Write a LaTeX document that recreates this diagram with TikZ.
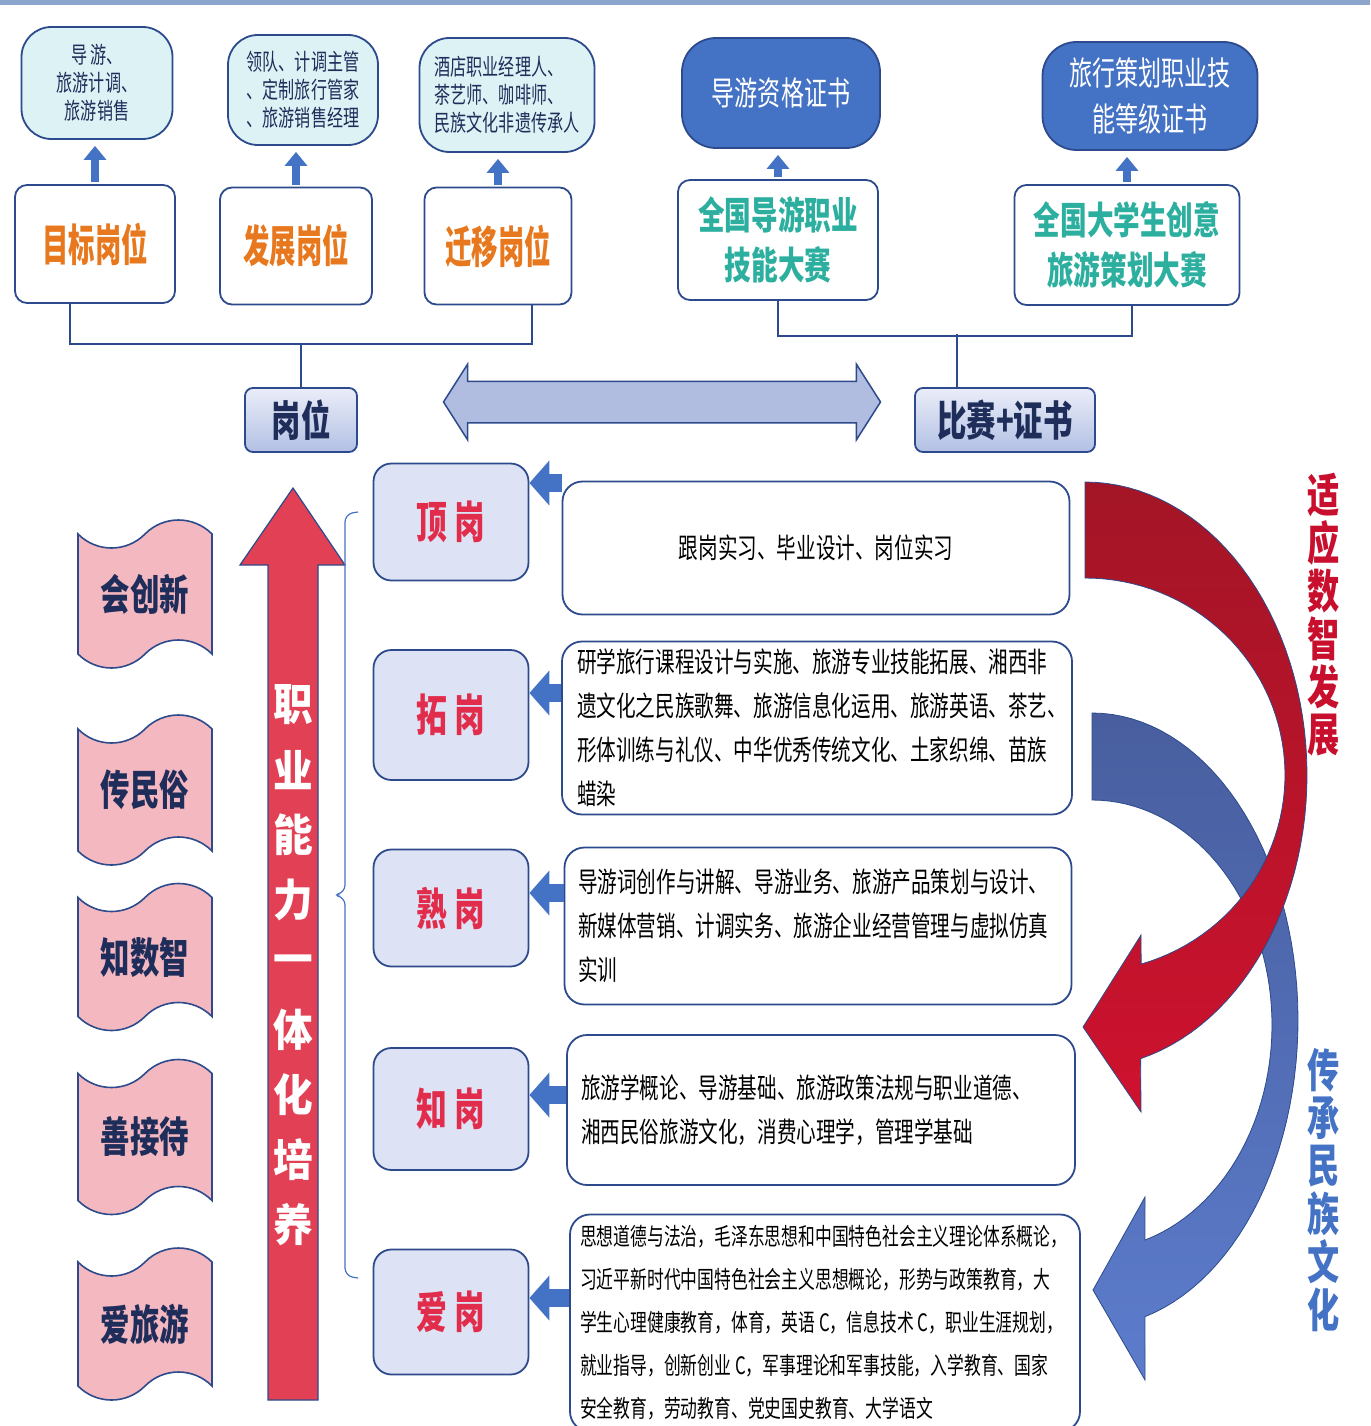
\documentclass[tikz,border=0pt]{standalone}
\usepackage{fontspec}
\setmainfont{Noto Sans CJK SC}
\newfontfamily\cnfont[FakeStretch=0.7]{Noto Sans CJK SC}
\newfontfamily\cnnarrow[FakeStretch=0.6]{Noto Sans CJK SC}
\newfontfamily\cnwide[FakeStretch=0.9]{Noto Sans CJK SC}
\usetikzlibrary{positioning}
\usetikzlibrary{arrows.meta,shapes}
\usetikzlibrary{shapes.arrows,shapes.symbols}
\usetikzlibrary{calc}

\definecolor{linecol}{RGB}{44,74,140}
\definecolor{navy}{RGB}{31,45,90}
\definecolor{cyanfill}{RGB}{221,242,245}
\definecolor{certfill}{RGB}{68,114,196}
\definecolor{orangec}{RGB}{232,120,30}
\definecolor{tealc}{RGB}{45,175,160}
\definecolor{lavfill}{RGB}{221,226,244}
\definecolor{lavdark}{RGB}{178,192,228}
\definecolor{arrfill}{RGB}{176,188,224}
\definecolor{pinkfill}{RGB}{244,184,192}
\definecolor{bigred}{RGB}{226,64,84}
\definecolor{arrblue}{RGB}{68,114,196}
\definecolor{redtop}{RGB}{163,21,38}
\definecolor{redbot}{RGB}{206,18,46}
\definecolor{bluetop}{RGB}{72,94,158}
\definecolor{bluebot}{RGB}{92,124,204}
\definecolor{redtxt}{RGB}{200,16,46}
\definecolor{stagered}{RGB}{225,45,75}
\definecolor{topbar}{RGB}{140,165,205}

\tikzstyle{jobbox}=[draw=linecol, line width=1.8pt, fill=cyanfill, rounded corners=30pt, inner sep=0pt, text=navy, font=\cnfont\fontsize{23}{28}\selectfont]
\tikzstyle{certbox}=[draw=linecol, line width=1.8pt, fill=certfill, rounded corners=34pt, inner sep=0pt, align=center, text=white, font=\cnfont\fontsize{33}{46}\selectfont]
\tikzstyle{posbox}=[draw=linecol, line width=1.8pt, fill=white, rounded corners=12pt, inner sep=0pt, align=center]
\tikzstyle{keybox}=[draw=linecol, line width=1.8pt, top color=lavfill!60!white, bottom color=lavdark, rounded corners=8pt, inner sep=0pt, text=navy, font=\cnfont\bfseries\fontsize{42}{42}\selectfont]
\tikzstyle{ribbon}=[tape, draw=linecol, line width=1.6pt, fill=pinkfill, tape bend top=in and out, tape bend bottom=in and out, tape bend height=28pt, minimum width=134pt, inner sep=0pt, text=navy, font=\cnfont\bfseries\fontsize{42}{42}\selectfont]
\tikzstyle{stagebox}=[draw=linecol, line width=1.8pt, fill=lavfill, rounded corners=18pt, minimum width=155pt, inner sep=0pt, text=stagered, font=\cnfont\bfseries\fontsize{44}{44}\selectfont]
\tikzstyle{contbox}=[draw=linecol, line width=1.8pt, fill=white, rounded corners=20pt, inner sep=0pt, align=left, text=black]
\tikzstyle{conn}=[draw=linecol, line width=1.2pt]
\tikzstyle{uparr}=[draw=arrblue, line width=8pt, -{Triangle[width=22pt,length=14pt]}, shorten >=6pt, shorten <=2pt]
\tikzstyle{leftarr}=[draw=arrblue, line width=18pt, -{Triangle[width=44pt,length=20pt]}]
\tikzstyle{armtxt}=[text=white, inner sep=0pt, font=\cnwide\bfseries\fontsize{44}{44}\selectfont]
\tikzstyle{vtxt}=[inner sep=0pt, font=\cnfont\bfseries\fontsize{46}{46}\selectfont]

\begin{document}
\begin{tikzpicture}[x=1pt, y=-1pt]
  \useasboundingbox (0,0) rectangle (1370,1426);
  \fill[topbar] (0,0) rectangle (1370,5);

  % top row: jobs and certificates
  \foreach \x/\y/\w/\h/\al/\name/\label in {97/83/151/112/center/c1/{导 游、\\旅游计调、\\旅游销售},
      303/90/150/110/left/c2/{领队、计调主管\\、定制旅行管家\\、旅游销售经理},
      507/95/175/114/left/c3/{酒店职业经理人、\\茶艺师、咖啡师、\\民族文化非遗传承人}}
    \node[jobbox, align=\al, minimum width=\w pt, minimum height=\h pt] (\name) at (\x,\y) {\label};

  \foreach \x/\y/\w/\h/\name/\label in {781/93/198/110/z1/{导游资格证书}, 1150/96/215/108/z2/{旅行策划职业技\\能等级证书}}
    \node[certbox, minimum width=\w pt, minimum height=\h pt] (\name) at (\x,\y) {\label};

  \foreach \x/\y/\w/\h/\name/\label in {95/244/160/118/p1/目标岗位, 296/246/152/117/p2/发展岗位, 498/246/147/117/p3/迁移岗位}
    \node[posbox, text=orangec, font=\cnnarrow\bfseries\fontsize{44}{44}\selectfont, minimum width=\w pt, minimum height=\h pt] (\name) at (\x,\y) {\label};

  \foreach \x/\y/\w/\h/\name/\label in {778/240/200/120/m1/{全国导游职业\\技能大赛}, 1127/245/225/120/m2/{全国大学生创意\\旅游策划大赛}}
    \node[posbox, text=tealc, font=\cnfont\bfseries\fontsize{38}{50}\selectfont, minimum width=\w pt, minimum height=\h pt] (\name) at (\x,\y) {\label};

  \foreach \a/\b in {p1/c1, p2/c2, p3/c3, m1/z1, m2/z2}
    \draw[uparr] (\a.north) -- (\a.north |- \b.south);

  % the two summary boxes
  \node[keybox, minimum width=112pt, minimum height=64pt] (gw) at (301,420) {岗位};
  \node[keybox, minimum width=180pt, minimum height=64pt] (mc) at (1005,420) {比赛+证书};

  \draw[conn] ([xshift=-25pt]p1.south) -- ++(0,40) -| ([xshift=34pt]p3.south);
  \draw[conn] (gw.north) -- (gw.north |- 0,343);
  \draw[conn] (m1.south) -- ++(0,35) -| ([xshift=5pt]m2.south);
  \draw[conn] ([xshift=-48pt]mc.north) -- ++(0,-53);

  \node[double arrow, draw=linecol, line width=1.5pt, fill=arrfill, minimum height=437pt, double arrow head extend=17pt, double arrow tip angle=115, inner ysep=20pt, inner xsep=0pt] (link) at (662,402) {};

  % left ribbons
  \foreach \y/\h/\name/\label in {594/148/r1/会创新, 790/150/r2/传民俗, 957/147/r3/知数智, 1137/155/r4/善接待, 1324/152/r5/爱旅游}
    \node[ribbon, minimum height=\h pt] (\name) at (145,\y) {\label};

  % big arrow
  \filldraw[fill=bigred, draw=linecol, line width=1.2pt] (268,1400) -- (268,565) -- (240,565) -- (293,488) -- (345,565) -- (318,565) -- (318,1400) -- cycle;
  \foreach \c [count=\i] in {职,业,能,力,一,体,化,培,养}
    \node[armtxt] (k\i) at (293,640+65*\i) {\c};

  \draw[draw=arrblue, line width=1.2pt, rounded corners=8pt] (358,512) -- (345,514) -- (345,893) -- (332,895) -- (345,897) -- (345,1276) -- (358,1278);

  % stages
  \foreach \y/\h/\name/\label in {522/117/s1/顶 岗, 715/130/s2/拓 岗, 908/117/s3/熟 岗, 1109/122/s4/知 岗, 1312/125/s5/爱 岗}
    \node[stagebox, minimum height=\h pt] (\name) at (451,\y) {\label};

  \node[contbox, align=center, minimum width=507pt, minimum height=133pt, font=\cnfont\fontsize{28}{44}\selectfont] (t1) at (816,548) {跟岗实习、毕业设计、岗位实习};
  \node[contbox, text width=480pt, minimum width=510pt, minimum height=173pt, font=\cnfont\fontsize{28}{44}\selectfont] (t2) at (817,728)
    {研学旅行课程设计与实施、旅游专业技能拓展、湘西非\\遗文化之民族歌舞、旅游信息化运用、旅游英语、茶艺、\\形体训练与礼仪、中华优秀传统文化、土家织绵、苗族\\蜡染};
  \node[contbox, text width=480pt, minimum width=507pt, minimum height=157pt, font=\cnfont\fontsize{28}{44}\selectfont] (t3) at (818,926)
    {导游词创作与讲解、导游业务、旅游产品策划与设计、\\新媒体营销、计调实务、旅游企业经营管理与虚拟仿真\\实训};
  \node[contbox, text width=480pt, minimum width=508pt, minimum height=150pt, font=\cnfont\fontsize{28}{44}\selectfont] (t4) at (821,1110)
    {旅游学概论、导游基础、旅游政策法规与职业道德、\\湘西民俗旅游文化，消费心理学，管理学基础};
  \node[contbox, text width=490pt, minimum width=510pt, minimum height=217pt, font=\cnfont\fontsize{24}{43}\selectfont] (t5) at (825,1323)
    {思想道德与法治，毛泽东思想和中国特色社会主义理论体系概论，\\习近平新时代中国特色社会主义思想概论，形势与政策教育，大\\学生心理健康教育，体育，英语\,C，信息技术\,C，职业生涯规划，\\就业指导，创新创业\,C，军事理论和军事技能，入学教育、国家\\安全教育，劳动教育、党史国史教育、大学语文};

  \foreach \src/\dst/\y in {t1/s1/483, t2/s2/693, t3/s3/893, t4/s4/1095, t5/s5/1298}
    \draw[leftarr] (\src.west |- 0,\y) -- (\dst.east |- 0,\y);

  % curved arrows on the right
  \shadedraw[top color=bluetop, bottom color=bluebot, draw=linecol, line width=0.8pt]
    plot[domain=90:-75.1, samples=60] ({1092+206*cos(\x)},{1020-307*sin(\x)}) -- (1145,1380) -- (1093,1290) -- (1145,1197)
    -- plot[domain=-72.9:90, samples=60] ({1092+180*cos(\x)},{1025-225*sin(\x)}) -- cycle;
  \shadedraw[top color=redtop, bottom color=redbot, draw=linecol, line width=0.8pt]
    plot[domain=90:-75.5, samples=60] ({1085+222*cos(\x)},{775-293*sin(\x)}) -- (1141,1112) -- (1083,1027) -- (1141,935)
    -- plot[domain=-73.7:90, samples=60] ({1085+200*cos(\x)},{775-197*sin(\x)}) -- cycle;

  \foreach \c [count=\i] in {适,应,数,智,发,展}
    \node[vtxt, text=redtxt] (u\i) at (1324,447+48*\i) {\c};
  \foreach \c [count=\i] in {传,承,民,族,文,化}
    \node[vtxt, text=arrblue] (v\i) at (1324,1022+48*\i) {\c};
\end{tikzpicture}
\end{document}
